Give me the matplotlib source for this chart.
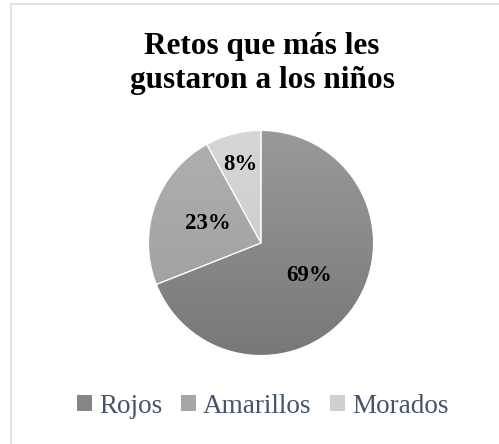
import matplotlib.pyplot as plt
import numpy as np
from matplotlib.colors import LinearSegmentedColormap
from matplotlib.patches import Rectangle

plt.rcParams['font.family'] = ['Liberation Serif', 'DejaVu Serif']

# data
categories = ['Rojos', 'Amarillos', 'Morados']
values = [69, 23, 8]
title = 'Retos que más les\ngustaron a los niños'

# gradient colours (top, bottom) and flat legend colours
grad_colors = [('#9a9a9a', '#787878'), ('#b0b0b0', '#9c9c9c'), ('#d6d6d6', '#c8c8c8')]
flat_colors = ['#868686', '#a6a6a6', '#cfcfcf']
label_dist = [0.52, 0.50, 0.72]

W, H = 499, 444
fig = plt.figure(figsize=(W / 100, H / 100), dpi=100)

# light outer frame (only left/top visible)
fig.patches.append(Rectangle((10.5 / W, -0.1), 1.0, 1.1 - 4.5 / H, transform=fig.transFigure,
                             facecolor='none', edgecolor='#d9dee7', linewidth=1.2))

cx, cy, r = 261, 243, 112.5
ax = fig.add_axes([(cx - r) / W, 1 - (cy + r) / H, 2 * r / W, 2 * r / H])

wedges, _ = ax.pie(values, colors=flat_colors, startangle=90, counterclock=False,
                   radius=1, wedgeprops=dict(edgecolor='white', linewidth=0.8))
ax.set_xlim(-1, 1)
ax.set_ylim(-1, 1)
ax.set_aspect('equal')
ax.axis('off')

grad = np.linspace(0, 1, 256).reshape(-1, 1)
for w, (c0, c1) in zip(wedges, grad_colors):
    cmap = LinearSegmentedColormap.from_list('g', [c0, c1])
    im = ax.imshow(grad, cmap=cmap, extent=(-1, 1, -1, 1), aspect='auto', zorder=0.5,
                   interpolation='bilinear')
    im.set_clip_path(w)
    w.set_facecolor('none')
    w.set_zorder(1)

# percentage labels
tot = sum(values)
for w, v, d in zip(wedges, values, label_dist):
    ang = np.deg2rad((w.theta1 + w.theta2) / 2)
    ax.text(d * np.cos(ang), d * np.sin(ang), '{0:.0f}%'.format(100 * v / tot),
            ha='center', va='center', fontsize=16.5, fontweight='bold', color='black', zorder=3)

fig.text(262 / W, 1 - 88 / H, title, ha='center', va='baseline', fontsize=22.5,
         fontweight='bold', color='black', linespacing=1.22)

handles = [Rectangle((0, 0), 1, 1, facecolor=c, edgecolor='none') for c in flat_colors]
leg = fig.legend(handles, categories, loc='center', bbox_to_anchor=(262.5 / W, 1 - 406 / H),
                 ncol=3, frameon=False, fontsize=19.5, handlelength=0.56, handleheight=0.56,
                 handletextpad=0.26, columnspacing=0.68, borderpad=0, borderaxespad=0)
for t in leg.get_texts():
    t.set_color('#44546a')

plt.savefig('out.png', dpi=100)
